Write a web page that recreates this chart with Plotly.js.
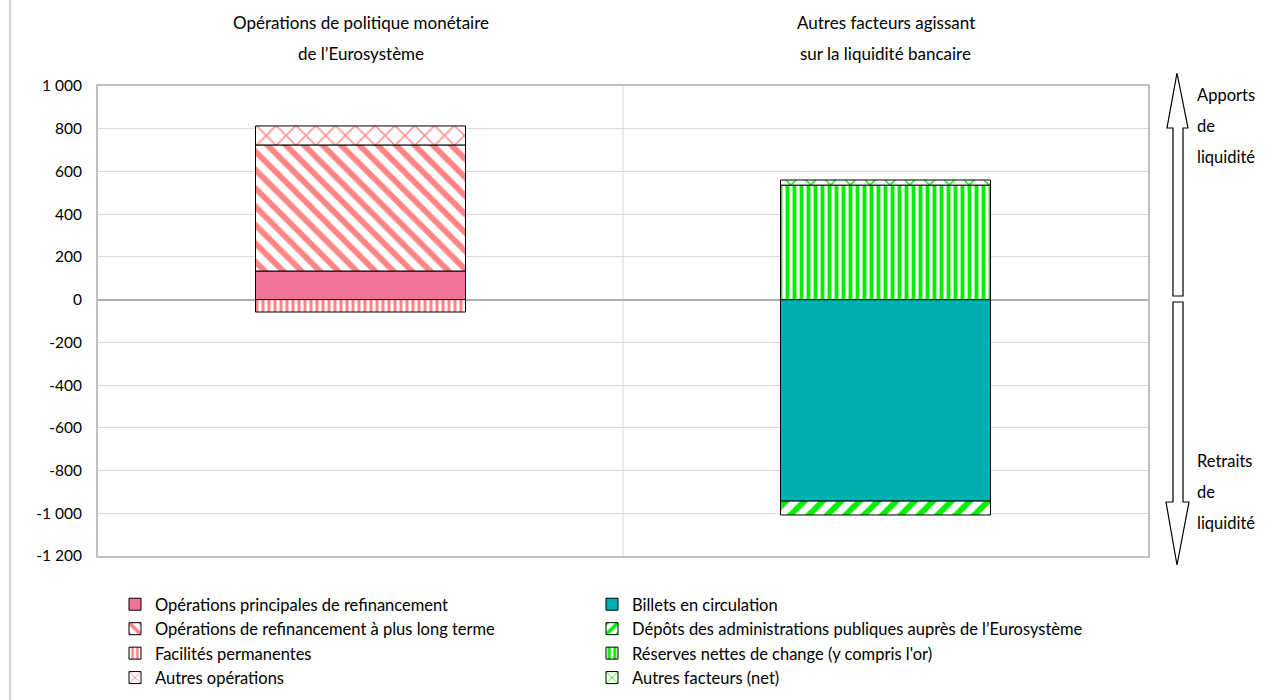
<!DOCTYPE html>
<html>
<head>
<meta charset="utf-8">
<script src="https://cdn.plot.ly/plotly-3.0.1.min.js"></script>
<style>
html,body{margin:0;padding:0;background:#fff;}
#chart{width:1277px;height:700px;}
</style>
</head>
<body>
<div id="chart"></div>
<script>
// Categories (two stacked columns)
const categories = ["Opérations de politique monétaire", "Autres facteurs"];
const categoryTitles = [["Opérations de politique monétaire", "de l’Eurosystème"], ["Autres facteurs agissant", "sur la liquidité bancaire"]];

// Series values (EUR bn), null where series not in that column
const mro      = [134, null];   // Opérations principales de refinancement
const ltro     = [590, null];   // Opérations de refinancement à plus long terme
const facil    = [-58, null];   // Facilités permanentes
const autresOp = [89, null];    // Autres opérations
const billets  = [null, -943];  // Billets en circulation
const depots   = [null, -65];   // Dépôts des administrations publiques
const reserves = [null, 536];   // Réserves nettes de change
const autresF  = [null, 24];    // Autres facteurs (net)

const tickVals = [1000, 800, 600, 400, 200, 0, -200, -400, -600, -800, -1000, -1200];
const tickText = ["1 000", "800", "600", "400", "200", "0", "-200", "-400", "-600", "-800", "-1 000", "-1 200"];

const FONT = "Lato, 'Open Sans', sans-serif";
const pink = "#ff8585";
const green = "#00ee00";

function bar(name, y, color, legend, shape, fg, size, sol) {
  const m = {color: color, line: {color: "#000", width: 1}};
  if (shape) m.pattern = {shape: shape, fgcolor: fg, bgcolor: "#ffffff", size: size, solidity: sol, fillmode: "replace"};
  return {type: "bar", name: name, x: categories, y: y, marker: m, width: 0.4, legend: legend, hoverinfo: "name+y"};
}

const traces = [
  bar("Opérations principales de refinancement", mro, "#f07497", "legend"),
  bar("Opérations de refinancement à plus long terme", ltro, "#ffffff", "legend", "\\", pink, 13, 0.45),
  bar("Facilités permanentes", facil, "#ffffff", "legend", "|", pink, 6, 0.5),
  bar("Autres opérations", autresOp, "#ffffff", "legend", "x", pink, 14, 0.2),
  bar("Billets en circulation", billets, "#00b0b0", "legend2"),
  bar("Dépôts des administrations publiques auprès de l’Eurosystème", depots, "#ffffff", "legend2", "/", green, 13, 0.45),
  bar("Réserves nettes de change (y compris l'or)", reserves, "#ffffff", "legend2", "|", green, 7, 0.55),
  bar("Autres facteurs (net)", autresF, "#ffffff", "legend2", "x", green, 14, 0.2)
];

// plot-area pixel helpers for decorations
const L = 98, R = 1148, T = 86, B = 556;
const px = v => (v - L) / (R - L);
const py = v => (B - v) / (B - T);
function path(pts) {
  return "M" + pts.map(p => px(p[0]) + "," + py(p[1])).join("L") + "Z";
}
const upArrow = path([[1177,73],[1188,128],[1183,128],[1183,296],[1173,296],[1173,128],[1167,128]]);
const downArrow = path([[1177,565],[1189,502],[1183,502],[1183,302],[1173,302],[1173,502],[1166,502]]);

const annotations = [];
categoryTitles.forEach((lines, i) => {
  lines.forEach((t, j) => {
    annotations.push({xref: "x", yref: "paper", x: categories[i], y: py(22 + j * 31), text: t, showarrow: false,
      font: {family: FONT, size: 17, color: "#000"}, xanchor: "center", yanchor: "middle"});
  });
});
[["Apports", 95], ["de", 126], ["liquidité", 157], ["Retraits", 461], ["de", 492], ["liquidité", 523]].forEach(a => {
  annotations.push({xref: "paper", yref: "paper", x: px(1195), y: py(a[1]), text: a[0], showarrow: false,
    font: {family: FONT, size: 16.5, color: "#000"}, xanchor: "left", yanchor: "middle"});
});

const legFont = {family: FONT, size: 16.5, color: "#000"};
const layout = {
  width: 1277, height: 700,
  margin: {l: L, r: 1277 - R, t: T, b: 700 - B, autoexpand: false},
  paper_bgcolor: "#fff", plot_bgcolor: "#fff",
  barmode: "relative",
  bargap: 0.6,
  font: {family: FONT, size: 15, color: "#000"},
  showlegend: true,
  legend: {orientation: "v", x: 17 / 1050, xanchor: "left", y: py(587), yanchor: "top",
           traceorder: "normal", font: legFont, bgcolor: "rgba(0,0,0,0)", tracegroupgap: 0},
  legend2: {orientation: "v", x: (632 - 40 - 98) / 1050, xanchor: "left", y: py(587), yanchor: "top",
           traceorder: "normal", font: legFont, bgcolor: "rgba(0,0,0,0)", tracegroupgap: 0},
  xaxis: {showticklabels: false, showgrid: false, zeroline: false, showline: true, mirror: true,
          linecolor: "#c0c0c0", linewidth: 2, ticks: ""},
  yaxis: {range: [-1200, 1000], tickvals: tickVals, ticktext: tickText, showgrid: true,
          gridcolor: "#d9d9d9", gridwidth: 1, zeroline: true, zerolinecolor: "#b0b0b0", zerolinewidth: 2,
          showline: true, mirror: true, linecolor: "#c0c0c0", linewidth: 2, ticks: "",
          tickfont: {family: FONT, size: 15.5, color: "#000"}, ticklabelstandoff: 11},
  shapes: [
    {type: "line", xref: "paper", yref: "paper", x0: 0.5, x1: 0.5, y0: 0, y1: 1, line: {color: "#d9d9d9", width: 1}, layer: "below"},
    {type: "path", xref: "paper", yref: "paper", path: upArrow, line: {color: "#000", width: 1.2}, fillcolor: "#fff"},
    {type: "path", xref: "paper", yref: "paper", path: downArrow, line: {color: "#000", width: 1.2}, fillcolor: "#fff"},
    {type: "line", xref: "paper", yref: "paper", x0: px(10), x1: px(10), y0: py(0), y1: py(700), line: {color: "#c0c0c0", width: 1.5}}
  ],
  annotations: annotations
};

Plotly.newPlot("chart", traces, layout, {displayModeBar: false, staticPlot: true});
</script>
</body>
</html>
